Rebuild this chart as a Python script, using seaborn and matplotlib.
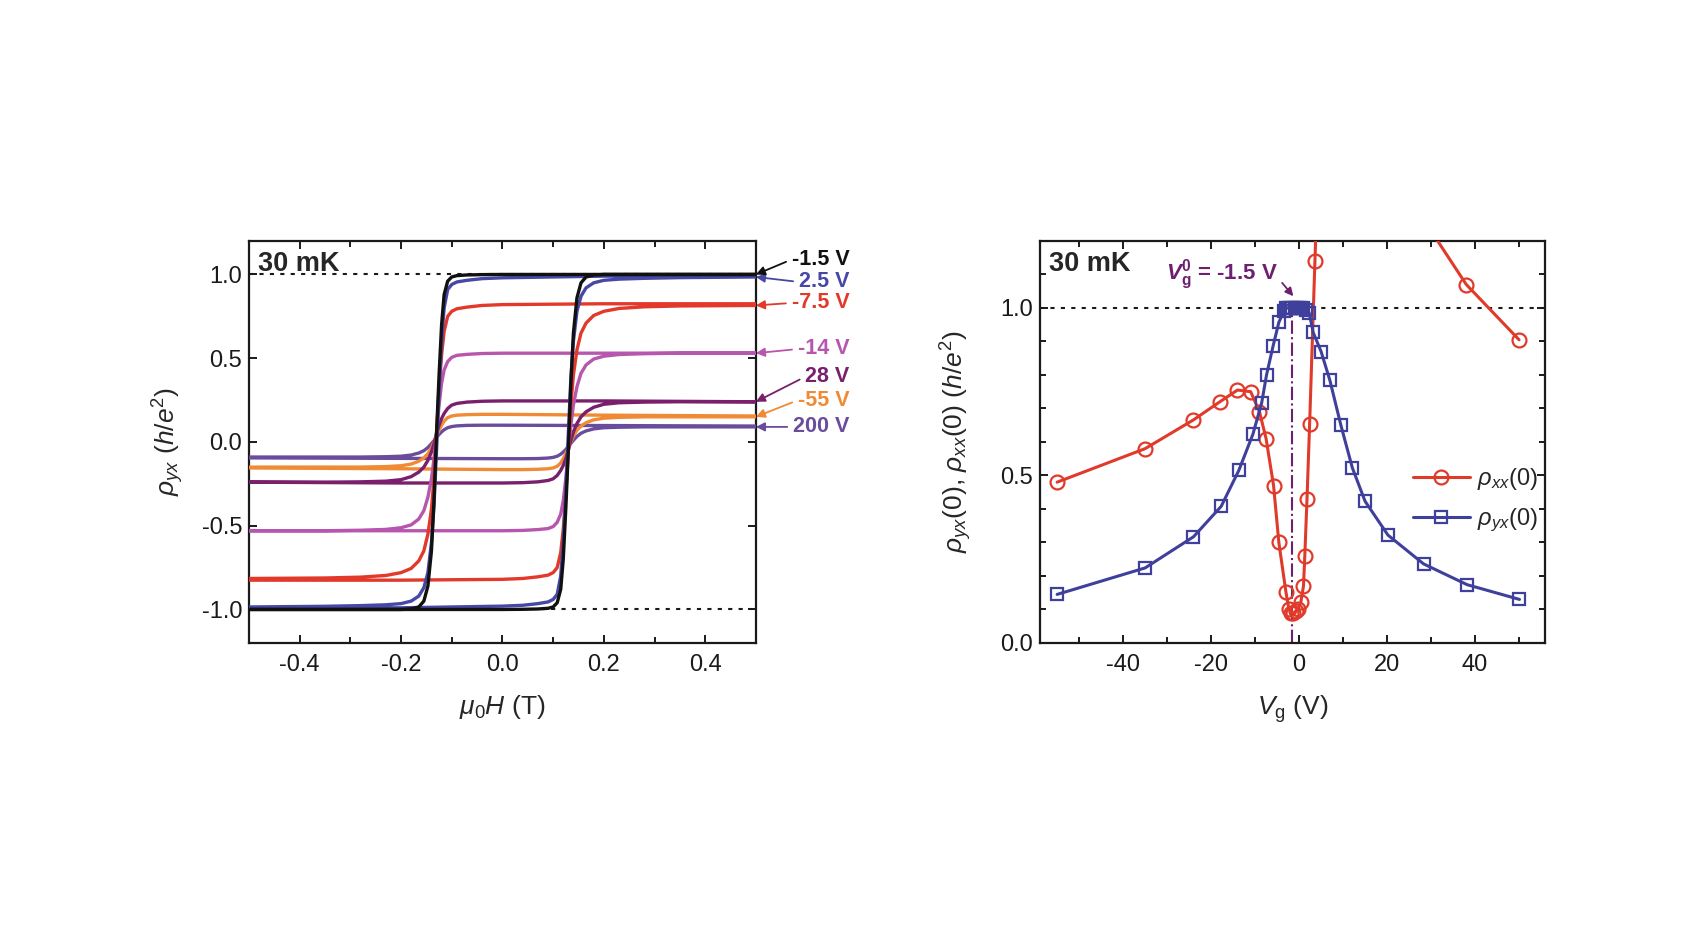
import numpy as np
import pandas as pd
import seaborn as sns
import matplotlib.pyplot as plt
from matplotlib.ticker import MultipleLocator

# ---- left panel: Hall hysteresis loops, field-increasing branch
H_up = [-0.50, -0.20, 0.00, 0.04, 0.07, 0.09, 0.10, 0.108, 0.115, 0.12, 0.125, 0.13,
        0.135, 0.14, 0.147, 0.155, 0.165, 0.18, 0.20, 0.23, 0.28, 0.35, 0.50]
rho_200 = [-0.095, -0.098, -0.10, -0.10, -0.099, -0.096, -0.092, -0.085, -0.073, -0.06,
           -0.045, -0.027, -0.008, 0.01, 0.033, 0.052, 0.066, 0.078, 0.085, 0.088,
           0.09, 0.09, 0.09]
rho_m55 = [-0.155, -0.16, -0.165, -0.165, -0.163, -0.16, -0.155, -0.145, -0.125, -0.10,
           -0.07, -0.035, 0.0, 0.035, 0.07, 0.095, 0.115, 0.132, 0.142, 0.147,
           0.15, 0.15, 0.15]
rho_28 = [-0.24, -0.245, -0.245, -0.243, -0.238, -0.23, -0.22, -0.20, -0.17, -0.14,
          -0.10, -0.05, 0.01, 0.06, 0.11, 0.15, 0.18, 0.207, 0.225, 0.234,
          0.238, 0.24, 0.24]
rho_m14 = [-0.53, -0.53, -0.53, -0.528, -0.523, -0.517, -0.505, -0.48, -0.43, -0.35,
           -0.22, -0.05, 0.10, 0.22, 0.33, 0.41, 0.46, 0.495, 0.512, 0.522,
           0.527, 0.53, 0.53]
rho_m7p5 = [-0.825, -0.825, -0.82, -0.815, -0.805, -0.795, -0.78, -0.75, -0.66, -0.52,
            -0.32, -0.05, 0.22, 0.40, 0.55, 0.65, 0.71, 0.755, 0.78, 0.797,
            0.807, 0.812, 0.815]
rho_2p5 = [-0.99, -0.99, -0.98, -0.975, -0.965, -0.955, -0.94, -0.91, -0.80, -0.60,
           -0.30, 0.05, 0.38, 0.60, 0.78, 0.87, 0.92, 0.95, 0.965, 0.972,
           0.977, 0.981, 0.985]
rho_m1p5 = [-1.0, -1.0, -1.0, -0.999, -0.997, -0.993, -0.985, -0.96, -0.88, -0.70,
            -0.40, -0.05, 0.35, 0.65, 0.86, 0.95, 0.985, 0.997, 1.0, 1.0,
            1.0, 1.0, 1.0]

loop_labels = ["200 V", "-55 V", "28 V", "-14 V", "-7.5 V", "2.5 V", "-1.5 V"]
loop_values = [rho_200, rho_m55, rho_28, rho_m14, rho_m7p5, rho_2p5, rho_m1p5]
loop_colors = ["#6a4c9c", "#f08a35", "#7a1f6c", "#b656ae", "#e2392b", "#4747a6", "#111111"]
label_y = [0.09, 0.25, 0.39, 0.555, 0.83, 0.955, 1.09]

# ---- right panel: zero-field resistivities vs gate voltage
vg_xx = [-55, -35, -24, -18, -14, -11, -9, -7.5, -5.8, -4.6, -3.0, -2.3, -1.8, -1.3,
         -0.8, -0.3, 0.4, 1.0, 1.3, 1.8, 2.4, 3.6, 5.0, 28, 38, 50]
rho_xx = [0.48, 0.58, 0.666, 0.72, 0.755, 0.75, 0.69, 0.61, 0.47, 0.30, 0.153, 0.10,
          0.09, 0.088, 0.095, 0.10, 0.122, 0.17, 0.26, 0.43, 0.655, 1.14, 1.70, 1.27,
          1.07, 0.905]
vg_yx = [-55, -35, -24, -17.7, -13.7, -10.5, -8.5, -7.4, -5.9, -4.6, -3.5, -3.0, -2.5,
         -2.0, -1.5, -1.0, -0.5, 0.0, 0.5, 1.0, 1.5, 2.3, 3.2, 5.0, 7.0, 9.5, 12.1,
         15.0, 20.2, 28.3, 38.2, 50.1]
rho_yx = [0.145, 0.224, 0.317, 0.408, 0.515, 0.623, 0.717, 0.80, 0.887, 0.957, 0.99,
          1.0, 1.0, 1.0, 1.0, 1.0, 1.0, 1.0, 1.0, 1.0, 0.995, 0.985, 0.927, 0.87, 0.784,
          0.65, 0.523, 0.423, 0.322, 0.236, 0.174, 0.13]
vg0 = -1.5

RED = "#e03a2a"
BLUE = "#3f3f9c"
PURPLE = "#6e2070"

sns.set_theme(style="ticks")
plt.rcParams["font.family"] = ["Liberation Sans", "DejaVu Sans"]
plt.rcParams["mathtext.fontset"] = "custom"
plt.rcParams["mathtext.rm"] = "Liberation Sans"
plt.rcParams["mathtext.it"] = "Liberation Sans:italic"
plt.rcParams["mathtext.bf"] = "Liberation Sans:bold"
plt.rcParams["mathtext.bfit"] = "Liberation Sans:bold:italic"
plt.rcParams["axes.unicode_minus"] = False

fig = plt.figure(figsize=(17.04, 9.52), dpi=100)
ax1 = fig.add_axes([0.1461, 0.3246, 0.2975, 0.4223])
ax2 = fig.add_axes([0.6103, 0.3246, 0.2964, 0.4223])


def style_axes(ax):
    for sp in ax.spines.values():
        sp.set_linewidth(1.6)
        sp.set_color("k")
    ax.tick_params(which="both", direction="in", top=True, right=True,
                   width=1.4, colors="k", labelsize=17)
    ax.tick_params(which="major", length=6)
    ax.tick_params(which="minor", length=4)
    ax.tick_params(axis="x", pad=8)
    ax.tick_params(axis="y", pad=5)


# left panel: sweep up then sweep down (the down branch mirrors the up branch)
for y0 in (1.0, -1.0):
    ax1.axhline(y0, color="k", ls=(0, (2, 3)), lw=1.5, zorder=1)
for lab, vals, col in zip(loop_labels, loop_values, loop_colors):
    h = H_up + [-x for x in H_up]
    r = vals + [-x for x in vals]
    df = pd.DataFrame({"H": h, "rho": r})
    sns.lineplot(data=df, x="H", y="rho", sort=False, estimator=None,
                 color=col, lw=2.4, ax=ax1, zorder=3)
for lab, vals, col, ty in zip(loop_labels, loop_values, loop_colors, label_y):
    ax1.annotate(lab, xy=(0.5, vals[-1]), xytext=(0.685, ty), ha="right", va="center",
                 color=col, fontsize=15.5, fontweight="bold", annotation_clip=False,
                 arrowprops=dict(arrowstyle="-|>", color=col, lw=1.3, mutation_scale=13,
                                 relpos=(0, 0.5), shrinkA=2, shrinkB=0))
ax1.set_xlim(-0.5, 0.5)
ax1.set_ylim(-1.2, 1.2)
ax1.xaxis.set_major_locator(MultipleLocator(0.2))
ax1.xaxis.set_minor_locator(MultipleLocator(0.1))
ax1.yaxis.set_major_locator(MultipleLocator(0.5))
ax1.xaxis.set_major_formatter(plt.FuncFormatter(lambda v, p: f"{v:.1f}"))
ax1.yaxis.set_major_formatter(plt.FuncFormatter(lambda v, p: f"{v:.1f}"))
style_axes(ax1)
ax1.set_xlabel(r"$\mu_0H$ (T)", fontsize=19)
ax1.set_ylabel(r"$\rho_{yx}$ ($h/e^2$)", fontsize=19)
ax1.xaxis.set_label_coords(0.5, -0.125)
ax1.yaxis.set_label_coords(-0.125, 0.5)
ax1.text(0.018, 0.975, "30 mK", transform=ax1.transAxes, ha="left", va="top",
         fontsize=19.5, fontweight="bold")

# right panel
ax2.axhline(1.0, color="k", ls=(0, (2, 3)), lw=1.5, zorder=1)
ax2.plot([vg0, vg0], [0, 1.0], color=PURPLE, ls="-.", lw=1.5, zorder=2)
sns.lineplot(x=vg_xx, y=rho_xx, sort=False, estimator=None, color=RED, lw=2.2,
             marker="o", markersize=10, markerfacecolor="none", markeredgecolor=RED,
             markeredgewidth=1.6, ax=ax2, zorder=3, label=r"$\rho_{xx}\mathrm{(0)}$")
sns.lineplot(x=vg_yx, y=rho_yx, sort=False, estimator=None, color=BLUE, lw=2.2,
             marker="s", markersize=9, markerfacecolor="none", markeredgecolor=BLUE,
             markeredgewidth=1.6, ax=ax2, zorder=4, label=r"$\rho_{yx}\mathrm{(0)}$")
ax2.annotate(r"$\mathbfit{V}_\mathbf{g}^\mathbf{0}$ = -1.5 V", xy=(-1.3, 1.035),
             xytext=(-17.5, 1.10), ha="center", va="center", color=PURPLE,
             fontsize=16, fontweight="bold",
             arrowprops=dict(arrowstyle="-|>", color=PURPLE, lw=1.3, mutation_scale=12,
                             relpos=(1, 0.4), shrinkA=1, shrinkB=0))
ax2.set_xlim(-58.9, 55.9)
ax2.set_ylim(0, 1.2)
ax2.xaxis.set_major_locator(MultipleLocator(20))
ax2.xaxis.set_minor_locator(MultipleLocator(10))
ax2.yaxis.set_major_locator(MultipleLocator(0.5))
ax2.yaxis.set_minor_locator(MultipleLocator(0.1))
ax2.yaxis.set_major_formatter(plt.FuncFormatter(lambda v, p: f"{v:.1f}"))
style_axes(ax2)
ax2.set_xlabel(r"$V_\mathrm{g}$ (V)", fontsize=19)
ax2.set_ylabel(r"$\rho_{yx}\mathrm{(0)}$, $\rho_{xx}\mathrm{(0)}$ ($h/e^2$)", fontsize=19)
ax2.xaxis.set_label_coords(0.5, -0.125)
ax2.yaxis.set_label_coords(-0.13, 0.5)
ax2.text(0.018, 0.975, "30 mK", transform=ax2.transAxes, ha="left", va="top",
         fontsize=19.5, fontweight="bold")
ax2.legend(loc="center left", bbox_to_anchor=(0.72, 0.355), frameon=False, fontsize=17,
           handlelength=2.4, handletextpad=0.3, labelspacing=0.6, borderaxespad=0)

fig.savefig("out.png", dpi=100)
